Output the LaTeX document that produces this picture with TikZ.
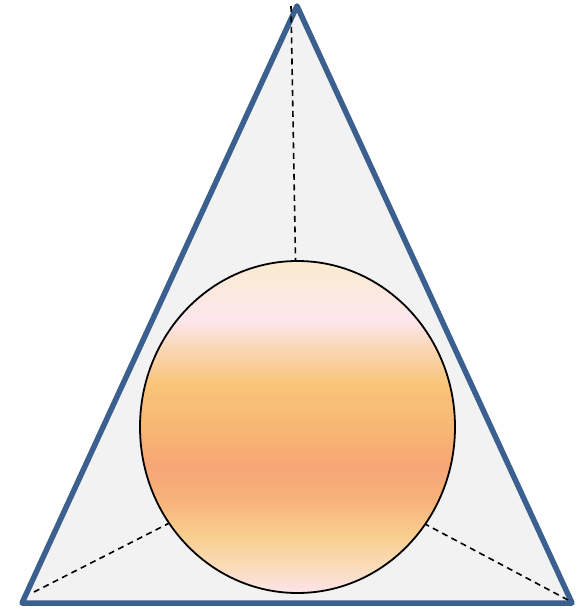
\documentclass[tikz,border=0pt]{standalone}
\usepackage{tikz}
\usetikzlibrary{arrows.meta}

\definecolor{frameblue}{HTML}{3B5F8E}
\definecolor{paper}{HTML}{F2F2F2}
\definecolor{sA}{HTML}{FDE5EA}
\definecolor{sB}{HTML}{FADBB8}
\definecolor{sC}{HTML}{F9CE8E}
\definecolor{sD}{HTML}{F8B27A}
\definecolor{sE}{HTML}{F7A676}
\definecolor{sF}{HTML}{F8B674}
\definecolor{sG}{HTML}{F8C478}
\definecolor{sH}{HTML}{F9D6B0}
\definecolor{sI}{HTML}{FDE6EE}
\definecolor{sJ}{HTML}{FBE9DD}
\definecolor{sK}{HTML}{FAEBD0}

\pgfdeclareverticalshading{sunset}{100bp}{%
  color(0bp)=(sA); color(25bp)=(sA); color(29.2bp)=(sB); color(33.75bp)=(sC);
  color(39bp)=(sD); color(44.3bp)=(sE); color(49.5bp)=(sF); color(56.35bp)=(sG);
  color(61.5bp)=(sH); color(66.1bp)=(sI); color(70.65bp)=(sJ); color(75bp)=(sK);
  color(100bp)=(sK)}

\tikzset{
  frame/.style={draw=frameblue, fill=paper, line width=5.5pt, line join=round},
  spoke/.style={line width=1.6pt, dash pattern=on 6pt off 4.5pt},
  ball/.style={draw=black, line width=1.8pt, shading=sunset}
}

\begin{document}
\begin{tikzpicture}[x=1pt, y=-1pt, thick]
  \useasboundingbox (0,0) rectangle (584,610);
  % corners
  \coordinate (apex) at (297,6);
  \coordinate (left) at (22,603);
  \coordinate (right) at (572,603);

  % triangle
  \draw[frame] (apex) -- (left) -- (right) -- cycle;

  % dashed spokes to the hub
  \coordinate (hub) at (299,457);
  \coordinate (tipA) at (291,6);
  \coordinate (tipB) at (34,592);
  \coordinate (tipC) at (568,600);
  \draw[spoke] (tipA) -- (hub);
  \draw[spoke] (tipB) -- (hub);
  \draw[spoke] (tipC) -- (hub);

  % ball
  \draw[ball] (297.5,427) ellipse [x radius=157.5, y radius=166];
\end{tikzpicture}
\end{document}
